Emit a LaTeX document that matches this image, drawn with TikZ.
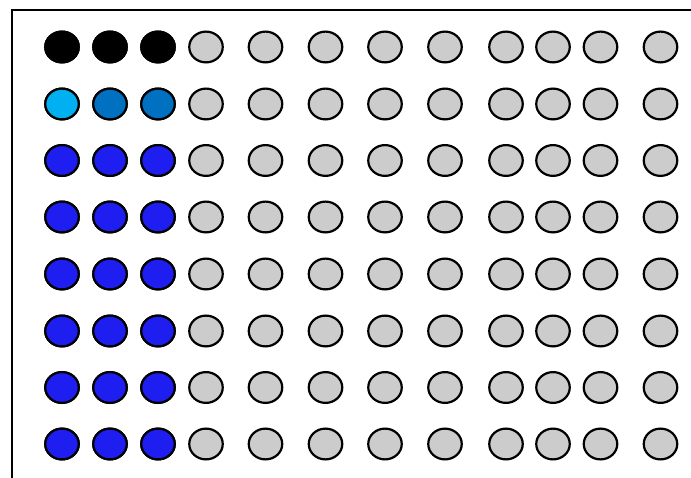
\documentclass[tikz,border=0pt]{standalone}
\usetikzlibrary{shapes.geometric}
\definecolor{wellgray}{RGB}{204,204,204}
\definecolor{wellcyan}{RGB}{0,176,240}
\definecolor{welldark}{RGB}{0,112,192}
\definecolor{wellblue}{RGB}{30,30,240}
\tikzset{
  well/.style={ellipse, draw=black, line width=2.2pt, minimum width=33.5pt, minimum height=30.8pt, inner sep=0pt, fill=wellgray},
  frameline/.style={line width=2.2pt}
}
\begin{document}
\begin{tikzpicture}[x=1pt,y=-1pt]
\useasboundingbox (0,0) rectangle (691,478);
\clip (0,0) rectangle (691,478);
\fill[white] (0,0) rectangle (691,478);
\draw[frameline] (11.8,490) |- (700,9.7);
\foreach \r/\y in {1/47,2/104,3/160.5,4/217,5/274,6/331,7/387.5,8/444}{
  \foreach \c/\x in {1/62,2/110,3/158,4/206,5/265.5,6/325.5,7/385,8/445,9/506,10/553,11/600.5,12/660.5}{
    \node[well] (w-\r-\c) at (\x,\y) {};
  }
}
\foreach \c in {1,2,3}{
  \node[well, fill=black] at (w-1-\c) {};
  \foreach \r in {3,4,5,6,7,8}{
    \node[well, fill=wellblue] at (w-\r-\c) {};
  }
}
\node[well, fill=wellcyan] at (w-2-1) {};
\node[well, fill=welldark] at (w-2-2) {};
\node[well, fill=welldark] at (w-2-3) {};
\end{tikzpicture}
\end{document}
